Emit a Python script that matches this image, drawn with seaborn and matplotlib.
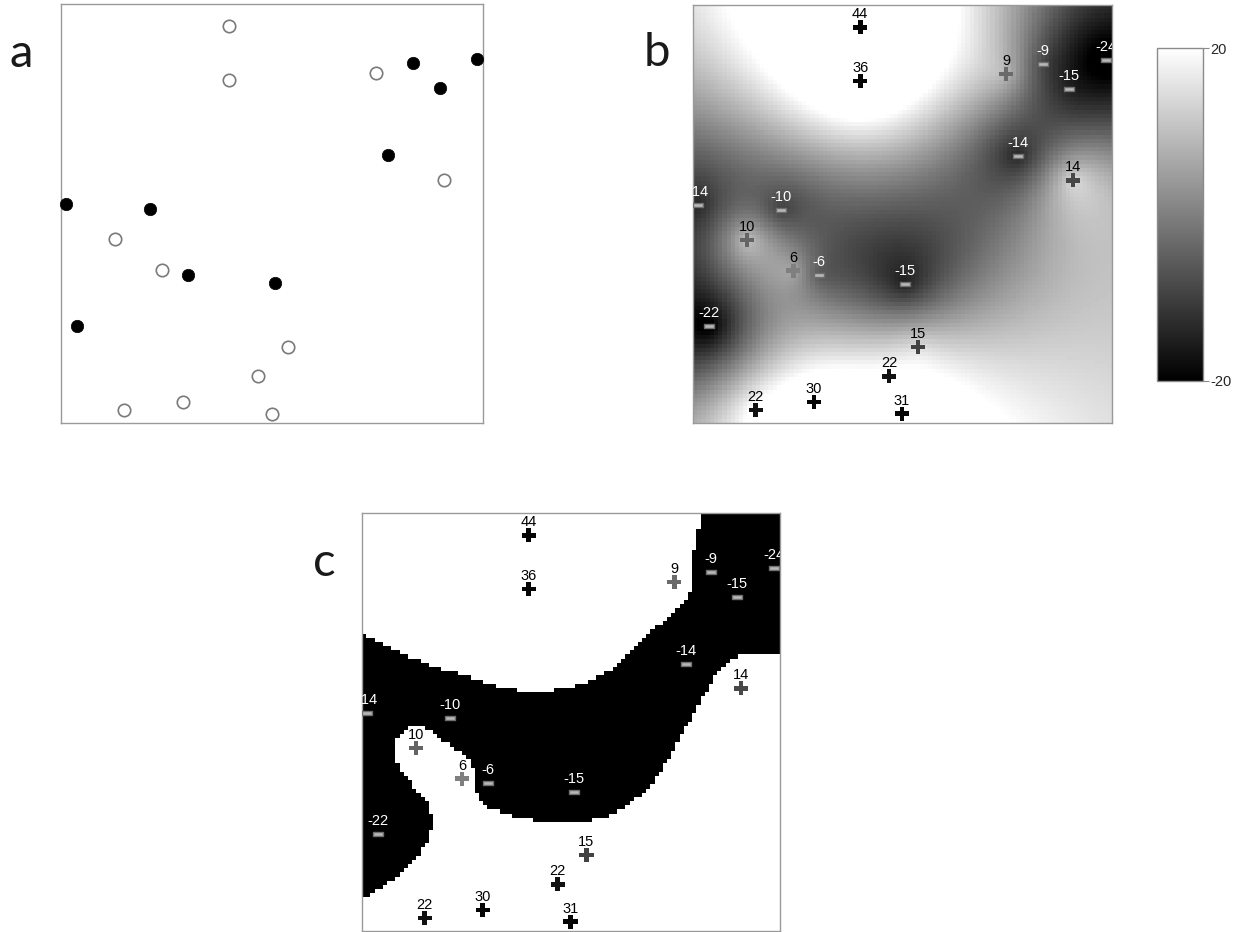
import numpy as np
import pandas as pd
import matplotlib
matplotlib.use("Agg")
import matplotlib.pyplot as plt
import seaborn as sns
from matplotlib.colors import LinearSegmentedColormap, ListedColormap, Normalize
from matplotlib.path import Path
from matplotlib.cm import ScalarMappable

# ---------------- data ----------------
site_x = [39.9, 39.9, 74.7, 83.5, 98.6, 89.7, 77.6, 90.7, 1.2, 21.0,
          12.9, 23.9, 30.1, 50.6, 3.8, 53.7, 46.8, 15.0, 28.9, 49.9]
site_y = [94.7, 81.8, 83.5, 85.9, 86.8, 80.0, 63.9, 58.1, 52.2, 51.0,
          43.8, 36.4, 35.4, 33.3, 23.2, 18.2, 11.2, 3.1, 5.0, 2.2]
site_value = [44, 36, 9, -9, -24, -15, -14, 14, -14, -10,
              10, 6, -6, -15, -22, 15, 22, 22, 30, 31]
colorbar_ticks = [-20, 20]
panel_letters = ["a", "b", "c"]

df = pd.DataFrame({"x": site_x, "y": site_y, "value": site_value})
pos = df[df["value"] >= 0]
neg = df[df["value"] < 0]


# ---------------- ordinary kriging surface from the sites ----------------
def ordinary_kriging(px, py, pv, n_cells=100, sill=400.0, rng=60.0, nugget=0.0):
    pts = np.column_stack([px, py]).astype(float)
    vals = np.asarray(pv, dtype=float)
    n = len(vals)

    def gamma(h):
        return np.where(h > 0, nugget + sill * (1 - np.exp(-h / rng)), 0.0)

    d = np.hypot(pts[:, None, 0] - pts[None, :, 0], pts[:, None, 1] - pts[None, :, 1])
    A = np.ones((n + 1, n + 1))
    A[:n, :n] = gamma(d)
    A[n, n] = 0.0
    c = (np.arange(n_cells) + 0.5) * 100.0 / n_cells
    gx, gy = np.meshgrid(c, c)
    q = np.column_stack([gx.ravel(), gy.ravel()])
    d0 = np.hypot(q[:, None, 0] - pts[None, :, 0], q[:, None, 1] - pts[None, :, 1])
    B = np.ones((len(q), n + 1))
    B[:, :n] = gamma(d0)
    W = np.linalg.solve(A, B.T)
    return (W[:n].T @ vals).reshape(gx.shape)


surface = ordinary_kriging(df["x"], df["y"], df["value"])

# ---------------- figure ----------------
sns.set_theme(style="white")
plt.rcParams["font.family"] = ["Liberation Sans", "DejaVu Sans"]

fig = plt.figure(figsize=(12.42, 9.32), dpi=100)
W_, H_ = 1242.0, 932.0


def frac(x0, y0, x1, y1):
    return [x0 / W_, 1 - y1 / H_, (x1 - x0) / W_, (y1 - y0) / H_]


ax_a = fig.add_axes(frac(61, 4, 483, 423))
ax_b = fig.add_axes(frac(693, 5, 1112, 423))
ax_c = fig.add_axes(frac(362, 513, 780, 931))
cax = fig.add_axes(frac(1157, 48, 1203, 381))

frame_color = "#9a9a9a"
for ax in (ax_a, ax_b, ax_c):
    ax.set_xlim(0, 100)
    ax.set_ylim(0, 100)
    ax.set_xticks([])
    ax.set_yticks([])
    for s in ax.spines.values():
        s.set_color(frame_color)
        s.set_linewidth(1.0)

# ---- panel a: sign of the observations ----
sns.scatterplot(data=pos, x="x", y="y", ax=ax_a, s=80, facecolor="white",
                edgecolor="#7a7a7a", linewidth=1.2, legend=False, clip_on=False, zorder=3)
sns.scatterplot(data=neg, x="x", y="y", ax=ax_a, s=80, color="black",
                edgecolor="black", linewidth=0.5, legend=False, clip_on=False, zorder=3)

# ---- panels b and c: surface + labelled sites ----
gray_cmap = plt.get_cmap("gray")
ax_b.imshow(surface, origin="lower", extent=[0, 100, 0, 100], cmap=gray_cmap,
            vmin=-20, vmax=20, interpolation="nearest", aspect="auto", zorder=0)
binary_cmap = ListedColormap(["black", "white"])
ax_c.imshow((surface >= 0).astype(float), origin="lower", extent=[0, 100, 0, 100],
            cmap=binary_cmap, vmin=0, vmax=1, interpolation="nearest", aspect="auto", zorder=0)

plus_cmap = LinearSegmentedColormap.from_list("plus", ["#8c8c8c", "#050505"])
rect_marker = Path([(-1, -0.42), (1, -0.42), (1, 0.42), (-1, 0.42), (-1, -0.42)],
                   [Path.MOVETO, Path.LINETO, Path.LINETO, Path.LINETO, Path.CLOSEPOLY])

for ax in (ax_b, ax_c):
    sns.scatterplot(data=pos, x="x", y="y", hue="value", palette=plus_cmap,
                    hue_norm=(4, 24), marker="P", s=105, linewidth=0, ax=ax,
                    legend=False, zorder=3)
    sns.scatterplot(data=neg, x="x", y="y", marker=rect_marker, s=60,
                    color="#b8b8b8", edgecolor="#6e6e6e", linewidth=1.0, ax=ax,
                    legend=False, zorder=3)
    for _, r in df.iterrows():
        col = "black" if r["value"] >= 0 else "white"
        ax.annotate(f"{int(r['value'])}", (r["x"], r["y"]), xytext=(0, 6.5),
                    textcoords="offset points", ha="center", va="baseline",
                    fontsize=10.5, color=col, zorder=4, annotation_clip=False,
                    clip_on=True)
    ax.set_xlim(0, 100)
    ax.set_ylim(0, 100)
    ax.set_xlabel("")
    ax.set_ylabel("")

# ---- colour bar ----
sm = ScalarMappable(norm=Normalize(-20, 20), cmap=gray_cmap)
cb = fig.colorbar(sm, cax=cax, ticks=colorbar_ticks)
cb.outline.set_edgecolor("#8a8a8a")
cb.outline.set_linewidth(1.0)
cax.tick_params(length=4, width=0.8, color="#8a8a8a", labelsize=10.5, pad=1)
cb.set_ticklabels([str(t) for t in colorbar_ticks])

# ---- panel letters ----
letter_pos = [(21, 54), (657, 53), (324, 563)]
for letter, (lx, ly) in zip(panel_letters, letter_pos):
    fig.text(lx / W_, 1 - ly / H_, letter, fontsize=34, family=["Lato", "DejaVu Sans"],
             ha="center", va="center", color="#1a1a1a")

fig.savefig("out.png", dpi=100)
